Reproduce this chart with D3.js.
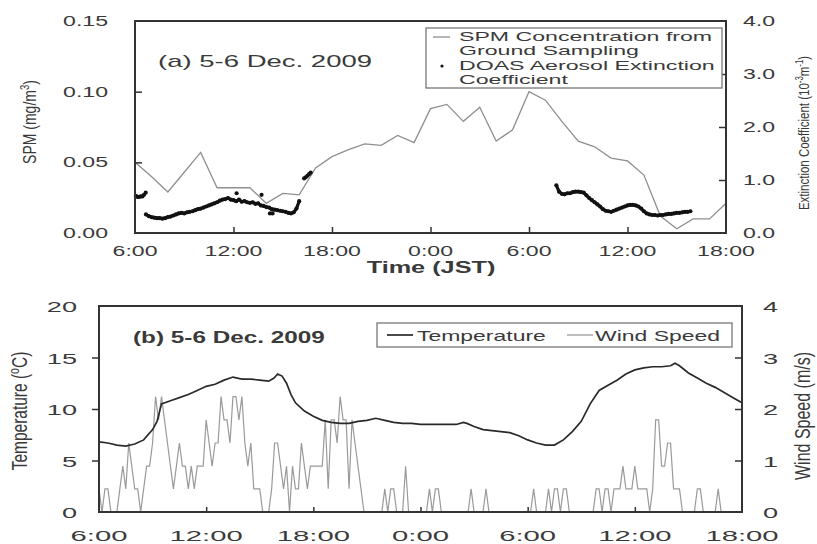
<!DOCTYPE html>
<html><head><meta charset="utf-8">
<script src="https://cdn.jsdelivr.net/npm/d3@7"></script>
<style>
body{margin:0;background:#fff}
svg{display:block}
text{font-family:"Liberation Sans",Arial,Helvetica,sans-serif;fill:#3a3a3a}
</style>
</head><body>
<svg id="c" width="817" height="544"></svg>
<script>
// ---------------- DATA ----------------
// time axis: hours counted from 0:00 on 5 Dec (24 = 0:00 on 6 Dec)
const timeTickHours = [6, 12, 18, 24, 30, 36, 42];
const timeTickLabels = ["6:00", "12:00", "18:00", "0:00", "6:00", "12:00", "18:00"];

// (a) SPM concentration from ground sampling, hourly (mg/m3)
const spmHours = [6,7,8,9,10,11,12,13,14,15,16,17,18,19,20,21,22,23,24,25,26,27,28,29,30,31,32,33,34,35,36,37,38,39,40,41,42];
const spmValues = [0.050,0.040,0.029,0.043,0.057,0.032,0.032,0.032,0.021,0.028,0.027,0.046,0.054,0.059,0.063,0.062,0.069,0.064,0.088,0.091,0.079,0.089,0.065,0.073,0.100,0.094,0.079,0.065,0.061,0.053,0.051,0.041,0.012,0.003,0.010,0.010,0.021];

// (a) DOAS aerosol extinction coefficient (10^-3 m^-1), 10-minute records
const doasSeg1Start = 6 + 40/60;   // 6:40, 5 Dec
const doasSeg1 = [0.35,0.32,0.30,0.29,0.28,0.28,0.27,0.28,0.30,0.31,
  0.33,0.35,0.37,0.38,0.37,0.39,0.40,0.41,0.43,0.45,
  0.46,0.48,0.50,0.52,0.54,0.56,0.58,0.61,0.63,0.64,
  0.66,0.63,0.62,0.60,0.63,0.59,0.60,0.58,0.57,0.58,
  0.55,0.56,0.52,0.51,0.49,0.48,0.45,0.44,0.43,0.42,
  0.41,0.40,0.38,0.37,0.39,0.46,0.60];
const doasSeg2Start = 31 + 40/60;  // 7:40, 6 Dec
const doasSeg2 = [0.90,0.78,0.74,0.73,0.75,0.75,0.77,0.78,0.78,0.77,
  0.76,0.71,0.66,0.62,0.58,0.54,0.50,0.45,0.42,0.41,
  0.40,0.42,0.44,0.46,0.48,0.50,0.52,0.53,0.53,0.52,
  0.50,0.46,0.41,0.37,0.35,0.34,0.34,0.33,0.34,0.34,
  0.35,0.36,0.36,0.37,0.38,0.38,0.39,0.40,0.40,0.41];
const doasExtraHours = [6.05,6.15,6.25,6.35,6.45,6.55,6.65, 16.3,16.4,16.5,16.6,16.7, 12.19,13.71,14.22,14.38];
const doasExtraValues = [0.70,0.68,0.68,0.69,0.69,0.72,0.76, 1.03,1.05,1.08,1.11,1.14, 0.75,0.72,0.37,0.37];

// (b) Temperature (deg C)
const tempHours = [6,6.5,7,7.5,8,8.5,9,9.25,9.5,10,10.5,11,11.5,12,12.5,13,13.5,14,14.5,15,15.5,15.8,16,16.25,16.5,16.75,17,17.5,18,18.5,19,19.5,20,20.5,21,21.5,22,22.5,23,23.5,24,24.5,25,25.5,26,26.4,26.6,27,27.5,28,28.5,29,29.5,30,30.5,31,31.5,32,32.5,33,33.5,34,34.5,35,35.5,36,36.5,37,37.5,38,38.25,38.5,39,39.5,40,40.5,41,41.5,42];
const tempValues = [6.8,6.7,6.5,6.4,6.6,7.0,8.0,8.8,10.5,10.8,11.1,11.4,11.8,12.2,12.4,12.8,13.1,12.9,12.9,12.8,12.7,13.0,13.4,13.2,12.5,11.4,10.6,9.8,9.3,8.9,8.7,8.6,8.6,8.8,8.9,9.1,8.9,8.7,8.6,8.6,8.5,8.5,8.5,8.5,8.5,8.7,8.6,8.3,8.0,7.9,7.8,7.7,7.4,7.0,6.7,6.5,6.5,7.0,7.8,8.8,10.5,11.8,12.3,12.8,13.4,13.8,14.0,14.1,14.1,14.2,14.45,14.2,13.5,13.0,12.5,12.1,11.6,11.1,10.6];

// (b) Wind speed (m/s), 10-minute records from 6:00, 5 Dec
const windStart = 6;
const windValues = [
  .45,0,.45,.45,0,0,        0,.45,.89,.45,1.34,.89,
  .45,.45,0,.45,.89,.89,    1.34,2.24,1.79,2.24,1.79,1.34,
  .89,.45,.89,1.34,.89,.89, .45,.89,.45,.89,.89,.89,
  1.79,1.34,.89,1.34,1.34,2.24, 1.79,1.79,1.34,2.24,2.24,1.79,
  2.24,1.34,.89,1.34,.45,.45, .45,0,0,0,.45,1.34,
  1.34,.89,.45,.89,0,.89,   .45,.45,1.34,.89,.45,.89,
  .89,.89,.89,.89,1.79,.45, 1.79,1.79,1.34,2.24,1.79,1.79,
  .45,1.79,1.34,.89,.45,0,  0,0,0,0,0,0,
  .45,0,.45,.45,0,0,        0,.89,0,0,0,0,
  0,0,0,.45,0,.45,          .45,0,0,0,0,0,
  0,0,0,0,0,.45,            0,0,0,0,.45,0,
  0,0,0,0,0,0,              0,0,0,0,0,0,
  0,0,.45,0,0,0,            0,.45,0,.45,.45,0,
  .45,.45,0,0,0,0,          0,0,0,0,0,.45,
  .45,0,.45,.45,0,.45,      .45,.45,.89,.45,.45,.45,
  .89,.45,.45,.45,.45,0,    .45,1.79,1.79,.89,.89,1.34,
  1.34,.45,.45,.45,0,0,     0,0,0,.45,.45,0,
  0,0,0,0,.45,0,            0,0,0,0,0,0,
  0];

// ---------------- DRAWING ----------------
const svg = d3.select("#c");
const INK = "#333";

function txt(parent, x, y, parts, o) {
  o = Object.assign({size: 14, sx: 1.65, anchor: "start", weight: "normal", rotate: 0}, o || {});
  const g = parent.append("g")
    .attr("transform", `translate(${x},${y}) scale(${o.sx},1)` + (o.rotate ? ` rotate(${o.rotate})` : ""));
  const t = g.append("text").attr("font-size", o.size).attr("text-anchor", o.anchor)
    .attr("font-weight", o.weight);
  if (typeof parts === "string") parts = [{t: parts}];
  let raised = false;
  parts.forEach(p => {
    const ts = t.append("tspan").text(p.t);
    if (p.sup && !raised) { ts.attr("dy", -o.size * 0.38).attr("font-size", o.size * 0.68); raised = true; }
    else if (p.sup) { ts.attr("font-size", o.size * 0.68); }
    else if (raised) { ts.attr("dy", o.size * 0.38); raised = false; }
  });
  return g;
}

// ===== Panel (a) =====
const xa = d3.scaleLinear().domain([6, 42]).range([135, 726]);
const ya = d3.scaleLinear().domain([0, 0.15]).range([233, 21]);
const ya2 = d3.scaleLinear().domain([0, 4]).range([233, 21]);
const ga = svg.append("g");

// SPM line
ga.append("path")
  .datum(spmHours.map((h, i) => [h, spmValues[i]]))
  .attr("fill", "none").attr("stroke", "#8f8f8f").attr("stroke-width", 1.3)
  .attr("d", d3.line().x(d => xa(d[0])).y(d => ya(d[1])));

// DOAS dots
const doasPts = [];
doasSeg1.forEach((v, i) => doasPts.push([doasSeg1Start + i / 6, v]));
doasSeg2.forEach((v, i) => doasPts.push([doasSeg2Start + i / 6, v]));
doasExtraHours.forEach((h, i) => doasPts.push([h, doasExtraValues[i]]));
ga.append("g").selectAll("circle").data(doasPts).join("circle")
  .attr("cx", d => xa(d[0])).attr("cy", d => ya2(d[1])).attr("r", 2.1).attr("fill", "#111");
[[doasSeg1Start, doasSeg1], [doasSeg2Start, doasSeg2]].forEach(([s, arr]) => {
  ga.append("path").datum(arr.map((v, i) => [s + i / 6, v]))
    .attr("fill", "none").attr("stroke", "#111").attr("stroke-width", 3.2)
    .attr("d", d3.line().x(d => xa(d[0])).y(d => ya2(d[1])));
});

// axes ticks (inside)
ga.append("g").attr("transform", "translate(135,0)")
  .call(d3.axisRight(ya).tickValues([0.05, 0.10]).tickSize(7).tickFormat(""))
  .call(g => g.select(".domain").remove());
ga.append("g").attr("transform", "translate(726,0)")
  .call(d3.axisLeft(ya2).tickValues([1, 2, 3]).tickSize(7).tickFormat(""))
  .call(g => g.select(".domain").remove());
ga.append("g").attr("transform", "translate(0,233)")
  .call(d3.axisTop(xa).tickValues([12, 18, 24, 30, 36]).tickSize(6).tickFormat(""))
  .call(g => g.select(".domain").remove());
ga.selectAll(".tick line").attr("stroke", INK).attr("stroke-width", 1.5);
ga.append("rect").attr("x", 135).attr("y", 21).attr("width", 591).attr("height", 212)
  .attr("fill", "none").attr("stroke", INK).attr("stroke-width", 2);

// tick labels
[0, 0.05, 0.10, 0.15].forEach(v => txt(svg, 108, ya(v) + 5, v.toFixed(2), {anchor: "end", size: 14, sx: 1.65}));
[0, 1, 2, 3, 4].forEach(v => txt(svg, 743, ya2(v) + 5, v.toFixed(1), {anchor: "start", size: 14, sx: 1.65}));
timeTickHours.forEach((h, i) => txt(svg, xa(h), 256, timeTickLabels[i], {anchor: "middle", size: 14, sx: 1.65}));
txt(svg, 431, 273, "Time (JST)", {anchor: "middle", size: 16, sx: 1.58, weight: "bold"});
txt(svg, 36, 122, [{t: "SPM (mg/m"}, {t: "3", sup: true}, {t: ")"}], {anchor: "middle", size: 14, sx: 1.35, rotate: -90});
txt(svg, 809, 133, [{t: "Extinction Coefficient (10"}, {t: "-3", sup: true}, {t: "m"}, {t: "-1", sup: true}, {t: ")"}],
  {anchor: "middle", size: 11.5, sx: 1.3, rotate: -90});
txt(svg, 158, 67, "(a) 5-6 Dec. 2009", {size: 16, sx: 1.72});

// legend (a)
svg.append("rect").attr("x", 426).attr("y", 28).attr("width", 296).attr("height", 60)
  .attr("fill", "#fff").attr("stroke", "#777").attr("stroke-width", 1.3);
svg.append("line").attr("x1", 433).attr("x2", 450).attr("y1", 37).attr("y2", 37).attr("stroke", "#8f8f8f").attr("stroke-width", 1.3);
svg.append("circle").attr("cx", 442).attr("cy", 66).attr("r", 1.6).attr("fill", "#111");
txt(svg, 459, 41, "SPM Concentration from", {size: 13, sx: 1.78});
txt(svg, 459, 55, "Ground Sampling", {size: 13, sx: 1.78});
txt(svg, 459, 70, "DOAS Aerosol Extinction", {size: 13, sx: 1.78});
txt(svg, 459, 84, "Coefficient", {size: 13, sx: 1.78});

// ===== Panel (b) =====
const xb = d3.scaleLinear().domain([6, 42]).range([99, 742]);
const yb = d3.scaleLinear().domain([0, 20]).range([512, 306]);
const yb2 = d3.scaleLinear().domain([0, 4]).range([512, 306]);
const gb = svg.append("g");

gb.append("path")
  .datum(windValues.map((v, i) => [windStart + i / 6, v]))
  .attr("fill", "none").attr("stroke", "#9a9a9a").attr("stroke-width", 1.2)
  .attr("d", d3.line().x(d => xb(d[0])).y(d => yb2(d[1])));
gb.append("path")
  .datum(tempHours.map((h, i) => [h, tempValues[i]]))
  .attr("fill", "none").attr("stroke", "#2a2a2a").attr("stroke-width", 1.7)
  .attr("d", d3.line().x(d => xb(d[0])).y(d => yb(d[1])));

gb.append("g").attr("transform", "translate(99,0)")
  .call(d3.axisLeft(yb).tickValues([5, 10, 15]).tickSize(7).tickFormat(""))
  .call(g => g.select(".domain").remove());
gb.append("g").attr("transform", "translate(742,0)")
  .call(d3.axisLeft(yb2).tickValues([1, 2, 3]).tickSize(7).tickFormat(""))
  .call(g => g.select(".domain").remove());
gb.append("g").attr("transform", "translate(0,512)")
  .call(d3.axisTop(xb).tickValues([12, 18, 24, 30, 36]).tickSize(5).tickFormat(""))
  .call(g => g.select(".domain").remove());
gb.selectAll(".tick line").attr("stroke", INK).attr("stroke-width", 1.5);
gb.append("rect").attr("x", 99).attr("y", 306).attr("width", 643).attr("height", 206)
  .attr("fill", "none").attr("stroke", INK).attr("stroke-width", 2);

[0, 5, 10, 15, 20].forEach(v => txt(svg, 77, yb(v) + 6, String(v), {anchor: "end", size: 15.5, sx: 1.75}));
[0, 1, 2, 3, 4].forEach(v => txt(svg, 763, yb2(v) + 6, String(v), {anchor: "start", size: 15.5, sx: 1.75}));
timeTickHours.forEach((h, i) => txt(svg, xb(h), 541, timeTickLabels[i], {anchor: "middle", size: 15, sx: 1.95}));
txt(svg, 27, 411, [{t: "Temperature ("}, {t: "o", sup: true}, {t: "C)"}], {anchor: "middle", size: 15.5, sx: 1.4, rotate: -90});
txt(svg, 810, 416, "Wind Speed (m/s)", {anchor: "middle", size: 16, sx: 1.4, rotate: -90});
txt(svg, 133, 343, "(b) 5-6  Dec. 2009", {size: 16, sx: 1.52, weight: "bold"});

// legend (b)
svg.append("rect").attr("x", 377).attr("y", 323).attr("width", 355).attr("height", 24)
  .attr("fill", "#fff").attr("stroke", "#777").attr("stroke-width", 1.3);
svg.append("line").attr("x1", 387).attr("x2", 413).attr("y1", 335).attr("y2", 335).attr("stroke", "#2a2a2a").attr("stroke-width", 1.7);
svg.append("line").attr("x1", 567).attr("x2", 593).attr("y1", 335).attr("y2", 335).attr("stroke", "#9a9a9a").attr("stroke-width", 1.3);
txt(svg, 417, 341, "Temperature", {size: 14, sx: 1.64});
txt(svg, 595, 341, "Wind Speed", {size: 14, sx: 1.64});
</script>
</body></html>
